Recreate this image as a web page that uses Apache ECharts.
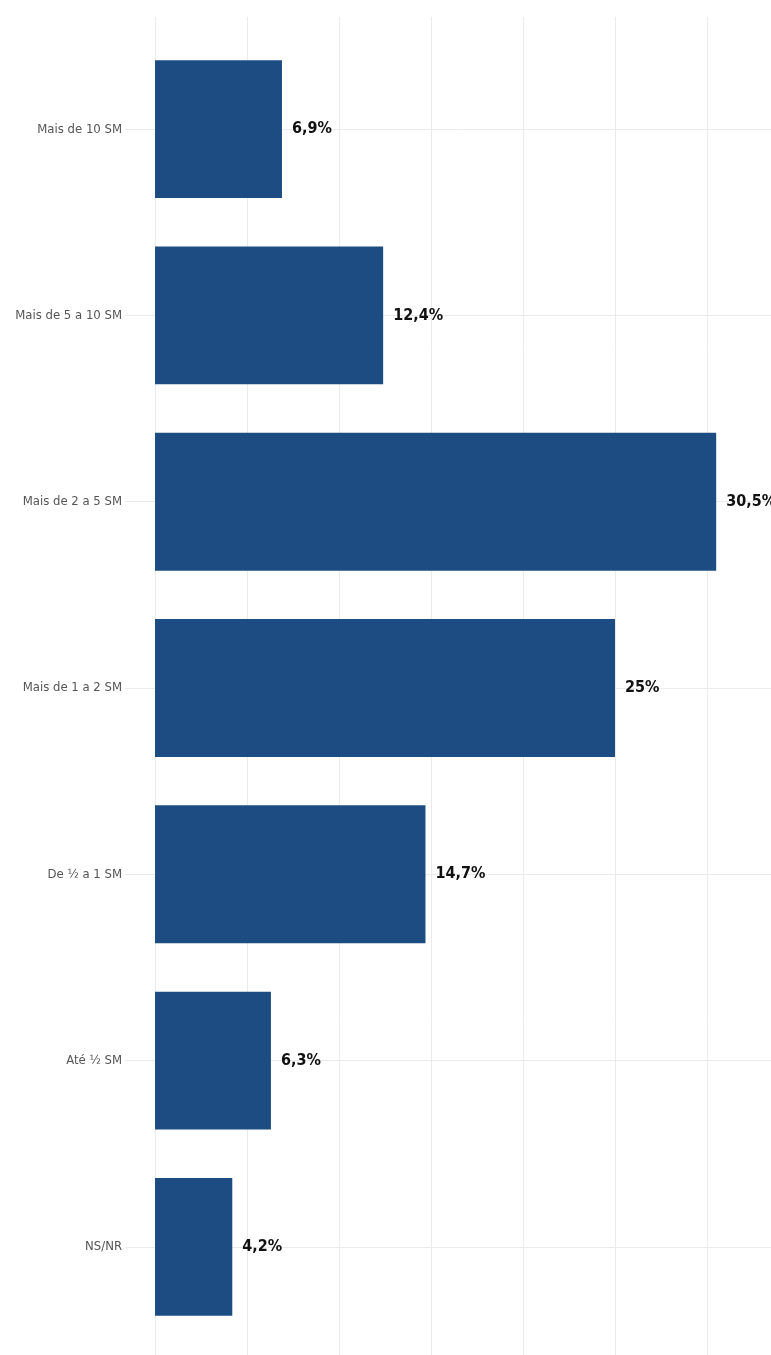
<!DOCTYPE html>
<html>
<head>
<meta charset="utf-8">
<script src="https://cdn.jsdelivr.net/npm/echarts@6/dist/echarts.min.js"></script>
<style>
  html, body { margin: 0; padding: 0; background: #fff; }
  #chart { width: 771px; height: 1355px; }
</style>
</head>
<body>
<div id="chart"></div>
<script>
const categories = ['Mais de 10 SM', 'Mais de 5 a 10 SM', 'Mais de 2 a 5 SM', 'Mais de 1 a 2 SM', 'De ½ a 1 SM', 'Até ½ SM', 'NS/NR']
const values = [6.9, 12.4, 30.5, 25, 14.7, 6.3, 4.2]
const xTicks = [0, 5, 10, 15, 20, 25, 30, 35]

const chart = echarts.init(document.getElementById('chart'))
const font = '"DejaVu Sans Condensed", "Liberation Sans Narrow", sans-serif'

const option = {
  backgroundColor: '#fff',
  animation: false,
  grid: [
    // bars
    { left: 155, width: 644, top: 36, bottom: 15, outerBoundsMode: 'none' },
    // vertical grid lines only, taller than the bar panel
    { left: 155, width: 644, top: 17, bottom: 0, outerBoundsMode: 'none' }
  ],
  xAxis: [
    {
      type: 'value', gridIndex: 0, min: 0, max: xTicks[xTicks.length - 1], interval: 5,
      axisLine: { show: false }, axisTick: { show: false }, axisLabel: { show: false },
      splitLine: { show: false }
    },
    {
      type: 'value', gridIndex: 1, min: 0, max: xTicks[xTicks.length - 1], interval: 5,
      axisLine: { show: false }, axisTick: { show: false }, axisLabel: { show: false },
      splitLine: { show: true, lineStyle: { color: '#ebebeb', width: 1 } }
    }
  ],
  yAxis: [
    {
      type: 'category', gridIndex: 0, data: categories, inverse: true,
      axisLine: { show: false },
      axisTick: { show: true, inside: true, alignWithLabel: true, length: 700, lineStyle: { color: '#ebebeb' } },
      axisLabel: { margin: 33, color: '#555', fontSize: 13, fontFamily: font },
      splitLine: { show: false }
    },
    {
      type: 'category', gridIndex: 0, data: categories, inverse: true, position: 'left',
      axisLine: { show: false },
      axisTick: { show: true, inside: false, alignWithLabel: true, length: 30, lineStyle: { color: '#ebebeb' } },
      axisLabel: { show: false },
      splitLine: { show: false }
    },
    {
      type: 'value', gridIndex: 1, show: false
    }
  ],
  series: [
    {
      type: 'bar',
      xAxisIndex: 0,
      yAxisIndex: 0,
      data: values,
      barWidth: '74%',
      itemStyle: { color: '#1c4c82' },
      label: {
        show: true,
        position: 'right',
        distance: 10,
        color: '#111',
        fontSize: 16,
        fontWeight: 'bold',
        fontFamily: font,
        formatter: p => String(p.value).replace('.', ',') + '%'
      }
    }
  ]
}

chart.setOption(option)
</script>
</body>
</html>
